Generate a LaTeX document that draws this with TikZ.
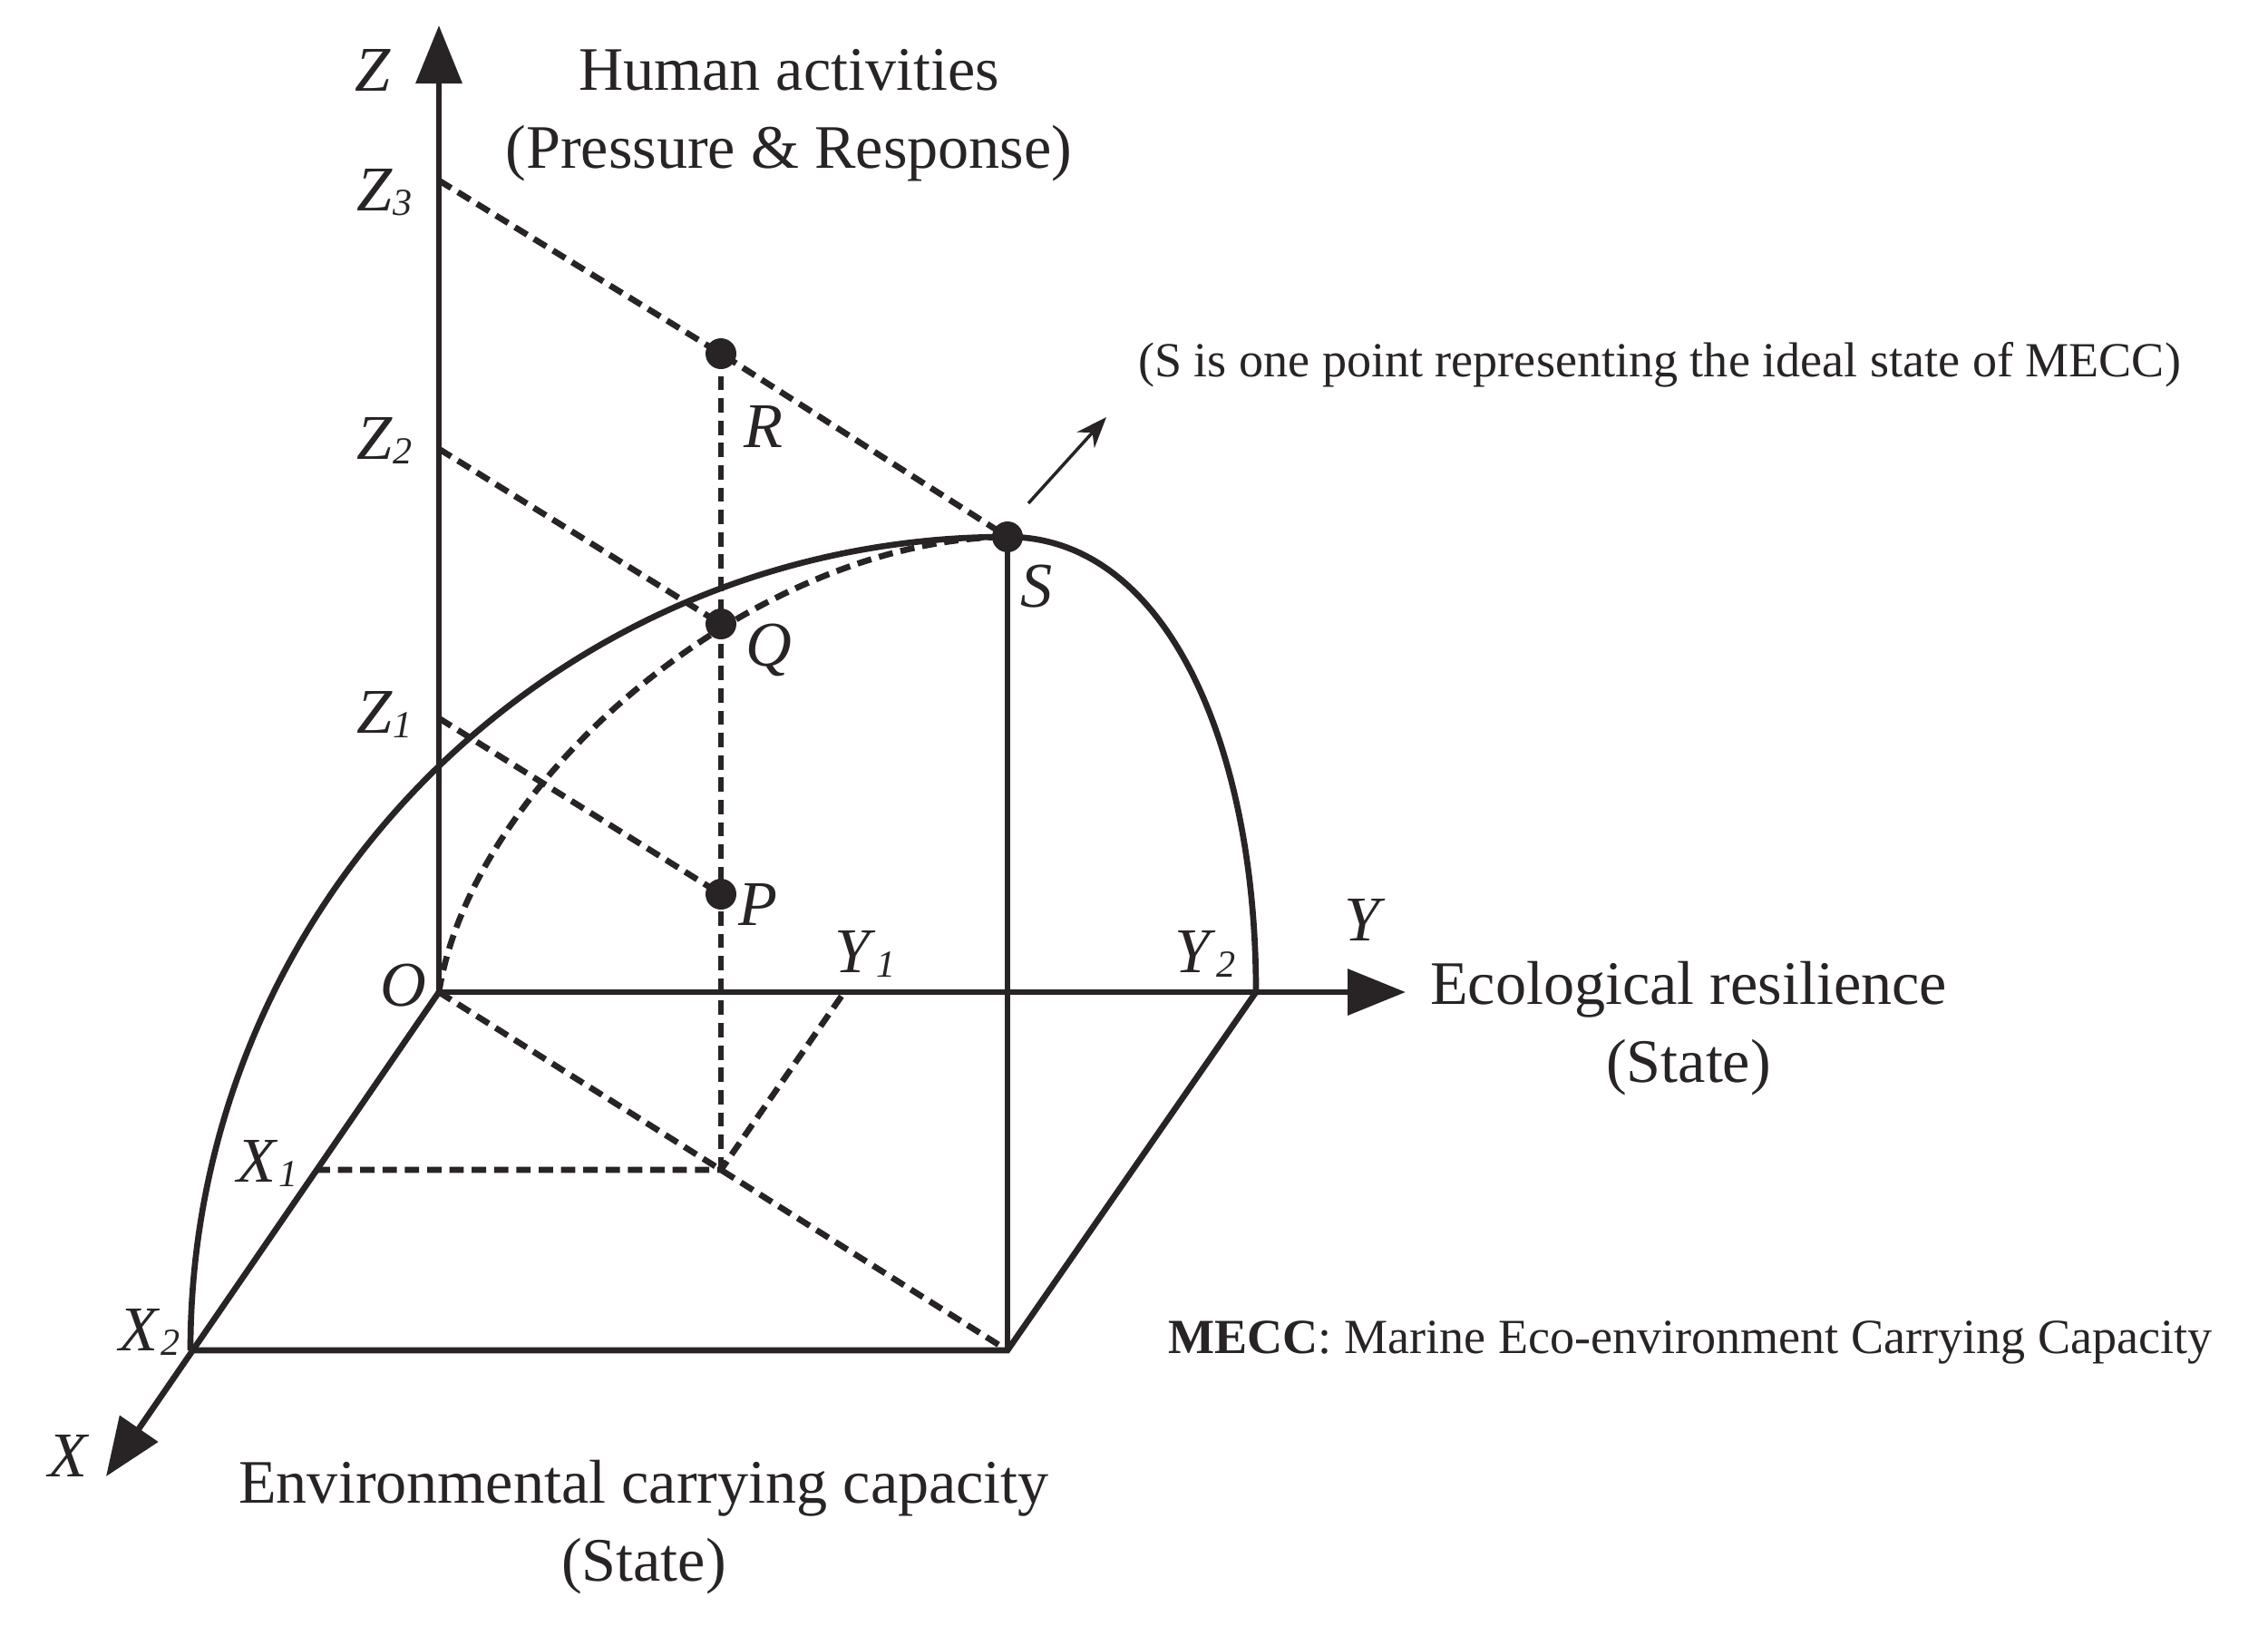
\documentclass[tikz,border=0pt]{standalone}
\usepackage{fontspec}
\setmainfont{Liberation Serif}
\usetikzlibrary{arrows.meta}
\definecolor{ink}{RGB}{40,36,37}
\newcommand{\lbl}[2]{\textit{#1}\raisebox{-0.15ex}{\fontsize{12}{12}\selectfont\textit{#2}}}

\begin{document}
\begin{tikzpicture}[thick,
  axis/.style={draw=ink, line width=1.9pt, -{Triangle[length=6.4mm,width=5mm]}},
  solid line/.style={draw=ink, line width=1.9pt},
  dash line/.style={draw=ink, line width=1.9pt, dash pattern=on 4.5pt off 2.5pt},
  dot/.style={circle, fill=ink, inner sep=0pt, minimum size=3.4mm},
  lab/.style={text=ink, font=\fontsize{20}{20}\selectfont},
  txt/.style={text=ink, align=center, font=\fontsize{19.4}{24.5}\selectfont},
  note/.style={text=ink, font=\fontsize{15.4}{18}\selectfont}]

  \useasboundingbox (0,0) rectangle (25.01,-17.92);

  \coordinate (O) at (4.84,-10.94);
  \coordinate (ztip) at (4.84,-0.28);
  \coordinate (ytip) at (15.50,-10.94);
  \coordinate (xtip) at (1.17,-16.28);
  \coordinate (z1) at (4.84,-7.92);
  \coordinate (z2) at (4.84,-4.95);
  \coordinate (z3) at (4.84,-1.99);
  \coordinate (x1) at (3.48,-12.90);
  \coordinate (x2) at (2.10,-14.89);
  \coordinate (y1) at (9.31,-10.94);
  \coordinate (y2) at (13.85,-10.94);
  \coordinate (G) at (7.95,-12.90);
  \coordinate (F) at (11.11,-14.89);
  \coordinate (P) at (7.95,-9.86);
  \coordinate (Q) at (7.95,-6.88);
  \coordinate (R) at (7.95,-3.90);
  \coordinate (S) at (11.11,-5.92);
  \coordinate (a0) at (11.34,-5.55);
  \coordinate (a1) at (12.20,-4.60);

  % axes
  \draw[axis] (O) -- (ztip);
  \draw[axis] (O) -- (ytip);
  \draw[axis] (O) -- (xtip);

  % floor and surface
  \draw[solid line] (x2) -- (F) -- (y2);
  \draw[solid line] (S) -- (F);
  \draw[solid line] (x2) arc[start angle=180, end angle=90, x radius=9.01, y radius=8.97];
  \draw[solid line] (S) .. controls (12.85,-5.92) and (13.85,-8.20) .. (y2);
  \draw[dash line] (O) .. controls (5.22,-8.58) and (8.32,-5.95) .. (S);

  % projections
  \draw[dash line] (z3) -- (R) -- (S);
  \draw[dash line] (z2) -- (Q);
  \draw[dash line] (z1) -- (P);
  \draw[dash line] (R) -- (G);
  \draw[dash line] (O) -- (G) -- (F);
  \draw[dash line] (x1) -- (G) -- (y1);
  \draw[ink, line width=1pt, -{Stealth[length=3.4mm,width=2.6mm]}] (a0) -- (a1);

  \foreach \p in {P,Q,R,S}
    \node[dot] (d\p) at (\p) {};

  \node[lab] (lZ) at (4.11,-0.77) {\textit{Z}};
  \node[lab] (lZ3) at (4.24,-2.12) {\lbl{Z}{3}};
  \node[lab] (lZ2) at (4.24,-4.86) {\lbl{Z}{2}};
  \node[lab] (lZ1) at (4.24,-7.88) {\lbl{Z}{1}};
  \node[lab] (lO) at (4.45,-10.87) {\textit{O}};
  \node[lab] (lX1) at (2.95,-12.83) {\lbl{X}{1}};
  \node[lab] (lX2) at (1.65,-14.69) {\lbl{X}{2}};
  \node[lab] (lX) at (0.76,-16.05) {\textit{X}};
  \node[lab] (lY1) at (9.54,-10.52) {\lbl{Y}{1}};
  \node[lab] (lY2) at (13.29,-10.52) {\lbl{Y}{2}};
  \node[lab] (lY) at (15.05,-10.14) {\textit{Y}};
  \node[lab] (lR) at (8.42,-4.70) {\textit{R}};
  \node[lab] (lS) at (11.43,-6.47) {\textit{S}};
  \node[lab] (lQ) at (8.48,-7.17) {\textit{Q}};
  \node[lab] (lP) at (8.36,-9.97) {\textit{P}};

  \node[txt] (hum) at (8.70,-1.27) {Human activities\\(Pressure \& Response)};
  \node[txt] (eco) at (18.62,-11.34) {Ecological resilience\\(State)};
  \node[txt] (env) at (7.10,-16.84) {Environmental carrying capacity\\(State)};
  \node[note] (ideal) at (18.30,-4.02) {(S is one point representing the ideal state of MECC)};
  \node[note] (mecc) at (18.64,-14.80) {\textbf{MECC}: Marine Eco-environment Carrying Capacity};

\end{tikzpicture}
\end{document}
